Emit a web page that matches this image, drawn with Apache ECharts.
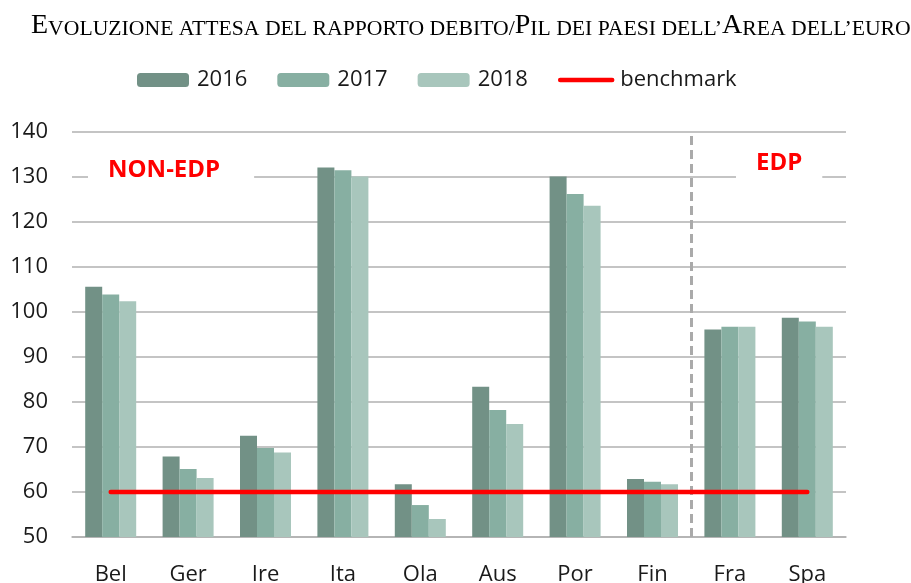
<!DOCTYPE html>
<html>
<head>
<meta charset="utf-8">
<script src="https://cdn.jsdelivr.net/npm/echarts@6/dist/echarts.min.js"></script>
<style>html,body{margin:0;padding:0;background:#fff}#c{width:911px;height:583px}</style>
</head>
<body>
<div id="c"></div>
<script>
var categories = ['Bel','Ger','Ire','Ita','Ola','Aus','Por','Fin','Fra','Spa'];
var years = ['2016','2017','2018'];
var v2016 = [105.6, 67.9, 72.5, 132.1, 61.7, 83.4, 130.1, 62.9, 96.1, 98.7];
var v2017 = [103.9, 65.1, 69.8, 131.5, 57.1, 78.2, 126.2, 62.3, 96.7, 97.9];
var v2018 = [102.4, 63.1, 68.8, 130.1, 54.0, 75.1, 123.6, 61.7, 96.7, 96.7];
var benchmark = [60, 60, 60, 60, 60, 60, 60, 60, 60, 60];
var yTicks = {min: 50, max: 140, interval: 10};
var edpDivider = 8; // boundary between Fin and Fra (category index)

var colors = ['#729186', '#87afa2', '#a8c6bc'];
var txt = '#1a1a1a';
var font = 'Open Sans';

function barSeries(name, data, color) {
  return {
    name: name, type: 'bar', data: data, barWidth: 17, barGap: '0%',
    itemStyle: {color: color}, silent: true
  };
}

var chart = echarts.init(document.getElementById('c'));
chart.setOption({
  animation: false,
  title: {
    text: '{b|E}{s|VOLUZIONE ATTESA DEL RAPPORTO DEBITO/}{b|P}{s|IL DEI PAESI DELL’}{b|A}{s|REA DELL’EURO}',
    left: 26, top: 5,
    textStyle: {
      fontWeight: 'normal',
      rich: {
        b: {fontFamily: 'Liberation Serif', fontWeight: 'normal', fontSize: 28, color: '#000', verticalAlign: 'bottom', lineHeight: 30},
        s: {fontFamily: 'Liberation Serif', fontWeight: 'normal', fontSize: 21.7, color: '#000', verticalAlign: 'bottom', lineHeight: 30}
      }
    }
  },
  legend: {
    left: 132, top: 64, itemWidth: 52, itemHeight: 14, itemGap: 30,
    data: ['2016', '2017', '2018', {name: 'benchmark', itemStyle: {opacity: 0}, lineStyle: {width: 4.5, cap: 'round'}}],
    textStyle: {fontFamily: font, fontSize: 22, color: txt, padding: [0, 0, 0, 3]}
  },
  grid: {left: 72, right: 65, top: 132, bottom: 46, outerBoundsMode: 'none', containLabel: false},
  xAxis: [{
    type: 'category', data: categories,
    axisLine: {lineStyle: {color: '#b0b0b0', width: 1.5}},
    axisTick: {show: false},
    axisLabel: {fontFamily: font, fontSize: 22, color: txt, margin: 27}
  }, {
    type: 'value', min: 0, max: categories.length, show: false
  }],
  yAxis: {
    type: 'value', min: yTicks.min, max: yTicks.max, interval: yTicks.interval,
    axisLine: {show: false}, axisTick: {show: false},
    axisLabel: {fontFamily: font, fontSize: 22, color: txt, margin: 24},
    splitLine: {lineStyle: {color: '#b0b0b0', width: 1.5}}
  },
  series: [
    barSeries(years[0], v2016, colors[0]),
    barSeries(years[1], v2017, colors[1]),
    barSeries(years[2], v2018, colors[2]),
    {
      name: 'benchmark', type: 'line', data: benchmark, symbol: 'none', silent: true, z: 5,
      lineStyle: {color: '#ff0000', width: 4.5, cap: 'round'}, itemStyle: {color: '#ff0000'}
    },
    {
      type: 'line', xAxisIndex: 1, data: [], silent: true,
      markLine: {
        symbol: 'none', silent: true, animation: false,
        label: {show: false},
        lineStyle: {color: '#aaaaaa', width: 3, type: [9, 5]},
        data: [{xAxis: edpDivider}]
      }
    }
  ],
  graphic: [
    {
      type: 'text', left: 88, top: 154, z: 100,
      style: {text: 'NON-EDP', fontFamily: font, fontWeight: 'bold', fontSize: 24, fill: '#ff0000',
        backgroundColor: '#fff', padding: [4, 34, 6, 20]}
    },
    {
      type: 'text', left: 736, top: 147, z: 100,
      style: {text: 'EDP', fontFamily: font, fontWeight: 'bold', fontSize: 24, fill: '#ff0000',
        backgroundColor: '#fff', padding: [4, 20, 8, 20]}
    }
  ]
});
</script>
</body>
</html>
